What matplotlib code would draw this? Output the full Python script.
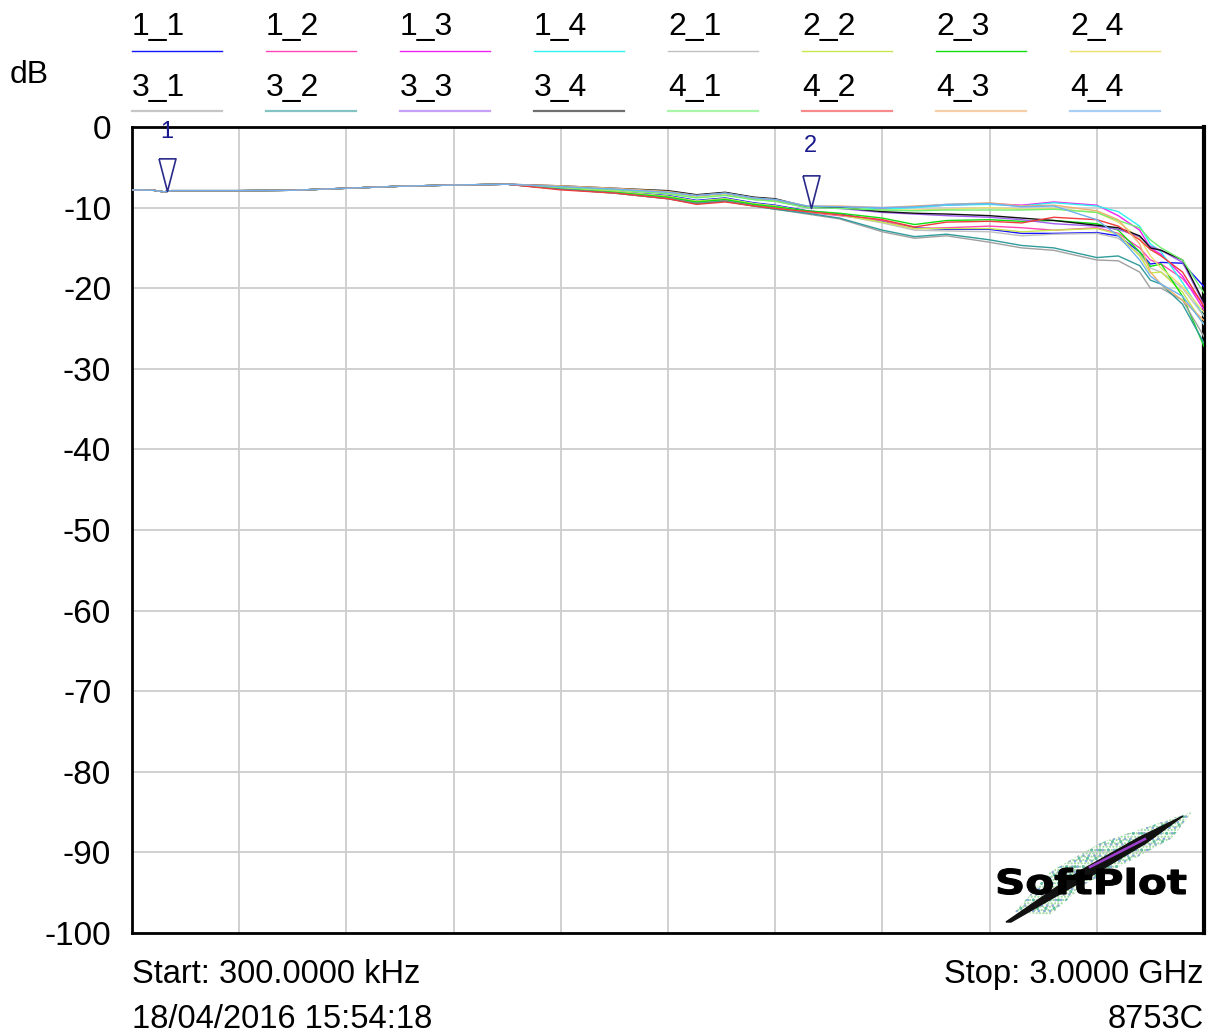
import numpy as np
import matplotlib
matplotlib.use("Agg")
import matplotlib.pyplot as plt
from matplotlib.lines import Line2D
from matplotlib.patches import PathPatch, Polygon
from matplotlib.textpath import TextPath
from matplotlib.font_manager import FontProperties
from matplotlib.transforms import IdentityTransform, Affine2D

# ---------------- data ----------------
# shared low band (MHz, dB) - all 16 traces overlap here
freq_low = [0.3, 60, 90, 110, 150, 300, 450, 600, 750, 900, 1050]
common_low = [-7.8, -7.85, -8.05, -7.9, -7.9, -7.9, -7.85, -7.6, -7.35, -7.2, -7.1]

# upper band where traces separate (MHz)
freq_high = [1200, 1350, 1500, 1580, 1660, 1740, 1800, 1890, 1980, 2100, 2190, 2280,
             2400, 2490, 2580, 2700, 2760, 2820, 2850, 2880, 2940, 3000]

s1_1 = [-7.6, -8.0, -8.5, -9.1, -8.8, -9.4, -9.7, -10.4, -10.8, -11.7, -12.5, -12.7, -12.7, -13.2, -13.2, -13.1, -13.5, -15.5, -17.0, -16.8, -16.9, -19.8]
s1_2 = [-7.7, -8.1, -8.8, -9.4, -9.1, -9.7, -10.0, -10.6, -11.0, -11.6, -12.6, -12.5, -12.3, -12.5, -12.8, -12.5, -13.2, -15.0, -16.5, -17.0, -18.8, -22.0]
s1_3 = [-7.4, -7.7, -8.1, -8.6, -8.3, -8.9, -9.1, -9.9, -9.9, -10.1, -9.9, -9.7, -9.5, -9.7, -9.3, -9.7, -11.0, -12.8, -15.0, -15.8, -18.5, -22.7]
s1_4 = [-7.4, -7.7, -8.2, -8.7, -8.4, -9.0, -9.2, -10.0, -10.0, -10.2, -10.0, -9.7, -9.6, -9.8, -9.4, -9.8, -10.5, -12.3, -14.5, -15.5, -19.3, -23.5]
s2_1 = [-7.6, -8.0, -8.6, -9.2, -8.9, -9.5, -9.8, -10.5, -10.9, -11.9, -12.8, -12.9, -13.0, -13.5, -13.3, -13.2, -13.8, -15.8, -17.5, -18.0, -20.0, -23.5]
s2_2 = [-7.6, -8.0, -8.6, -9.2, -8.9, -9.5, -9.8, -10.5, -10.9, -11.8, -12.6, -12.6, -12.6, -13.0, -12.8, -12.6, -13.3, -16.0, -18.1, -18.0, -20.5, -24.5]
s2_3 = [-7.7, -8.1, -8.7, -9.3, -9.0, -9.6, -9.9, -10.4, -10.7, -11.3, -12.1, -11.6, -11.5, -11.7, -11.6, -12.0, -12.8, -15.5, -17.3, -17.0, -21.0, -27.2]
s2_4 = [-7.5, -7.8, -8.2, -8.7, -8.4, -9.0, -9.2, -10.0, -10.1, -10.3, -10.3, -10.2, -10.0, -10.2, -10.1, -10.6, -11.8, -13.8, -16.0, -17.5, -19.8, -23.0]
s3_1 = [-7.7, -8.2, -8.9, -9.5, -9.2, -9.8, -10.2, -10.8, -11.4, -13.0, -13.8, -13.5, -14.3, -15.0, -15.3, -16.5, -16.6, -18.0, -20.0, -20.0, -21.5, -26.0]
s3_2 = [-7.7, -8.2, -8.9, -9.5, -9.2, -9.8, -10.2, -10.7, -11.3, -12.8, -13.6, -13.3, -14.0, -14.7, -15.0, -16.2, -16.0, -17.2, -19.0, -19.5, -22.0, -26.8]
s3_3 = [-7.4, -7.7, -8.0, -8.5, -8.2, -8.8, -9.0, -10.0, -10.1, -10.6, -10.8, -11.0, -11.2, -11.5, -12.0, -12.3, -12.7, -13.6, -14.8, -15.3, -16.8, -22.0]
s3_4 = [-7.3, -7.6, -7.9, -8.4, -8.1, -8.7, -8.9, -9.9, -10.0, -10.5, -10.7, -10.8, -11.0, -11.3, -11.6, -12.2, -12.5, -13.5, -15.0, -15.3, -16.5, -21.8]
s4_1 = [-7.5, -7.8, -8.3, -8.8, -8.5, -9.0, -9.2, -10.0, -10.1, -10.3, -10.4, -10.3, -10.3, -10.3, -10.2, -10.6, -11.6, -12.5, -14.0, -15.0, -16.5, -20.6]
s4_2 = [-7.8, -8.2, -8.9, -9.6, -9.3, -9.8, -10.1, -10.5, -10.9, -11.5, -12.4, -11.8, -11.7, -11.9, -11.2, -11.5, -12.3, -14.0, -15.2, -16.0, -18.0, -22.3]
s4_3 = [-7.3, -7.6, -8.0, -8.5, -8.2, -8.8, -9.0, -9.8, -9.8, -10.0, -9.8, -9.6, -9.4, -9.8, -9.7, -10.4, -11.5, -14.5, -18.0, -19.5, -21.5, -24.0]
s4_4 = [-7.4, -7.7, -8.1, -8.5, -8.2, -8.8, -9.0, -9.8, -9.9, -10.0, -9.9, -9.6, -9.5, -9.9, -9.8, -11.5, -13.5, -16.5, -18.5, -19.5, -21.0, -24.5]

series_names = ["1_1", "1_2", "1_3", "1_4", "2_1", "2_2", "2_3", "2_4",
                "3_1", "3_2", "3_3", "3_4", "4_1", "4_2", "4_3", "4_4"]
series_high = [s1_1, s1_2, s1_3, s1_4, s2_1, s2_2, s2_3, s2_4,
               s3_1, s3_2, s3_3, s3_4, s4_1, s4_2, s4_3, s4_4]
series_colors = ["#1414ff", "#ff46b4", "#f020f0", "#30f0f0",
                 "#c0c0c0", "#c8e650", "#10e010", "#e8e070",
                 "#a0a0a0", "#309c9c", "#a060f0", "#101010",
                 "#70f070", "#f03c3c", "#f0b070", "#70b0f0"]

marker_labels = ["1", "2"]
marker_freq = [98, 1900]
marker_val = [-7.95, -10.0]

y_ticks = [0, -10, -20, -30, -40, -50, -60, -70, -80, -90, -100]
y_tick_labels = ["0", "-10", "-20", "-30", "-40", "-50", "-60", "-70", "-80", "-90", "-100"]
f_start, f_stop = 0.3, 3000.0

# ---------------- figure ----------------
W, H = 1209, 1035
DPI = 100
plt.rcParams['font.family'] = ['Liberation Sans', 'DejaVu Sans']
fig = plt.figure(figsize=(W / DPI, H / DPI), dpi=DPI)
fig.patch.set_facecolor("white")

L, R, T, B = 132, 1204, 127, 933
ax = fig.add_axes([L / W, 1 - B / H, (R - L) / W, (B - T) / H])
ax.set_xlim(f_start, f_stop)
ax.set_ylim(-100, 0)

ax.set_xticks(np.linspace(f_start, f_stop, 11))
ax.set_xticklabels([])
ax.set_yticks(y_ticks)
ax.set_yticklabels(y_tick_labels, fontsize=24)
ax.tick_params(axis="both", length=0)
ax.tick_params(axis="y", pad=15)
ax.grid(True, color="#cdcdcd", linewidth=1.3)
ax.set_axisbelow(True)
for side, sp in ax.spines.items():
    sp.set_linewidth(2.0)
    sp.set_color("black")
ax.spines["right"].set_linewidth(3.0)

for vals, col in zip(series_high, series_colors):
    ax.plot(freq_low + freq_high, common_low + vals, color=col, linewidth=1.0, zorder=3)

# markers
tri = [(-0.26, 1.0), (0.26, 1.0), (0.0, 0.0), (-0.26, 1.0)]
label_y = [-0.6, -2.4]
for lab, fq, v, ly in zip(marker_labels, marker_freq, marker_val, label_y):
    ax.plot([fq], [v], marker=tri, markersize=47, markerfacecolor="none",
            markeredgecolor="#2a2a8a", markeredgewidth=1.2, linestyle="none", zorder=5)
    ax.text(fq, ly, lab, color="#1a1a8c", fontsize=17, ha="center", va="center", zorder=6)

# dB label
fig.text(10 / W, 1 - 75 / H, "dB", fontsize=23, ha="left", va="center")

# legend (two rows of 8)
for i, (name, col) in enumerate(zip(series_names, series_colors)):
    row, c = divmod(i, 8)
    x0 = 132 + c * 134
    base = 35 if row == 0 else 96
    ly = 51 if row == 0 else 111
    fig.text(x0 / W, 1 - base / H, name, fontsize=23, ha="left", va="baseline")
    fig.add_artist(Line2D([x0 / W, (x0 + 90) / W], [1 - ly / H, 1 - ly / H],
                          color=col, linewidth=1.0 if row == 0 else 1.6,
                          alpha=1.0 if row == 0 else 0.6, transform=fig.transFigure))

# footer texts
fig.text(132 / W, 1 - 983 / H, "Start: 300.0000 kHz", fontsize=23.5, ha="left", va="baseline")
fig.text(1204 / W, 1 - 983 / H, "Stop: 3.0000 GHz", fontsize=23.5, ha="right", va="baseline")
fig.text(132 / W, 1 - 1028 / H, "18/04/2016 15:54:18", fontsize=23.5, ha="left", va="baseline")
fig.text(1204 / W, 1 - 1028 / H, "8753C", fontsize=23.5, ha="right", va="baseline")

# SoftPlot logo (decorative)
def P(x, y):
    return (x, H - y)

feather_outline = [P(1015, 912), P(1050, 872), P(1100, 843), P(1150, 826), P(1192, 812),
                   P(1172, 838), P(1128, 862), P(1085, 884), P(1050, 915)]
for hcol, hatch in [("#8ed88e", "....."), ("#e8b860", "..."), ("#80b0e8", "..."), ("#60c0a0", "..")]:
    fig.add_artist(Polygon(feather_outline, closed=True, facecolor="none", edgecolor=hcol,
                           linewidth=0, hatch=hatch, transform=IdentityTransform()))
quill = [P(1006, 922), P(1080, 871), P(1140, 837), P(1183, 816), P(1146, 843), P(1086, 879), P(1011, 922)]
fig.add_artist(Polygon(quill, closed=True, facecolor="#111111", edgecolor="#111111",
                       linewidth=1.0, transform=IdentityTransform()))
fig.add_artist(Line2D([1090, 1145], [H - 867, H - 839], color="#a040d0", linewidth=1.8,
                      transform=IdentityTransform()))

tp = TextPath((0, 0), "SoftPlot", size=100, prop=FontProperties(family="DejaVu Sans", weight="bold"))
bb = tp.get_extents()
sx = 188 / bb.width
sy = 25 / 73.0
trans = Affine2D().translate(-bb.x0, 0).scale(sx, sy).translate(998, H - 894)
fig.add_artist(PathPatch(trans.transform_path(tp), facecolor="black", edgecolor="black",
                         linewidth=0.8, transform=IdentityTransform()))

fig.savefig("out.png", dpi=DPI, facecolor="white")
